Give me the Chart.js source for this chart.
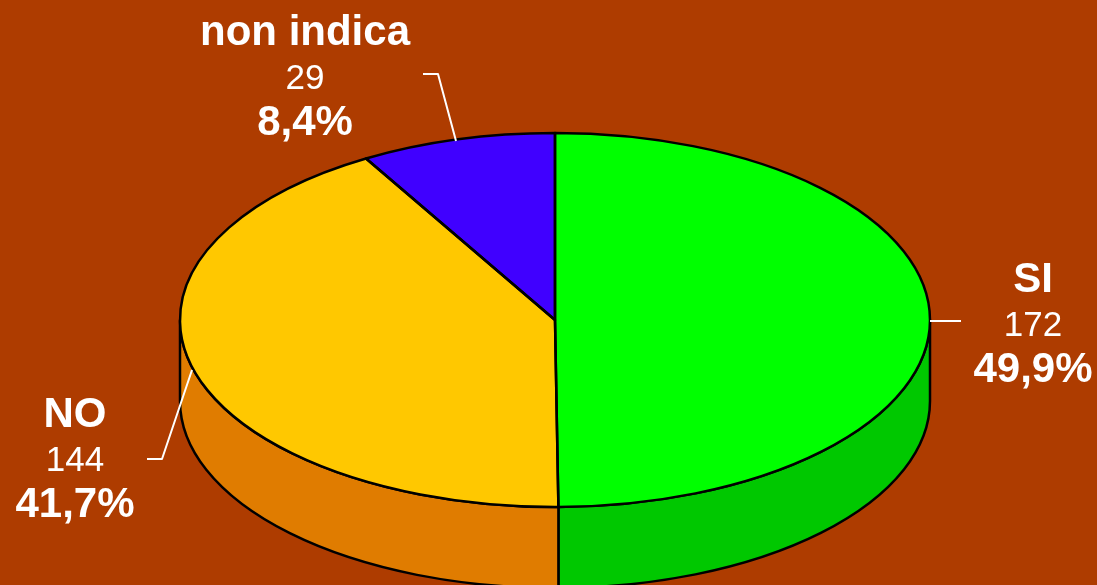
<!DOCTYPE html>
<html>
<head>
<meta charset="utf-8">
<title>Pie</title>
<script src="https://cdn.jsdelivr.net/npm/chart.js@4"></script>
<style>
  html, body { margin: 0; padding: 0; background: #ae3c00; overflow: hidden; }
  canvas { display: block; }
</style>
</head>
<body>
<canvas id="myChart" width="1097" height="585"></canvas>
<script>
const categories = ["SI", "NO", "non indica"];
const counts = [172, 144, 29];
const percents = ["49,9%", "41,7%", "8,4%"];

const topColors = ["#00ff00", "#ffc800", "#4000ff"];
const sideColors = ["#00c800", "#e07c00", "#3000c0"];

// pie ellipse on the page
const cx = 555, cy = 320, rx = 375, ry = 187, depth = 81;

// label block centre + first baseline, then the leader line, same order as categories
const labelSpots = [
  { x: 1033, y: 292, leader: [[930, 321], [961, 321]] },
  { x: 75, y: 427, leader: [[192, 370], [162, 459], [147, 459]] },
  { x: 305, y: 45, leader: [[456, 141], [438, 74], [423, 74]] }
];

const pie3d = {
  id: "pie3d",
  beforeDatasetsDraw(chart) {
    const ctx = chart.ctx;
    const arcs = chart.getDatasetMeta(0).data;

    ctx.save();
    ctx.lineWidth = 2.5;
    ctx.lineJoin = "round";
    ctx.strokeStyle = "#000";

    // side wall, only the part of each slice on the front half
    arcs.forEach((arc, i) => {
      const from = Math.max(arc.startAngle, 0);
      const to = Math.min(arc.endAngle, Math.PI);
      if (to <= from) return;
      ctx.beginPath();
      ctx.ellipse(cx, cy, rx, ry, 0, from, to);
      ctx.ellipse(cx, cy + depth, rx, ry, 0, to, from, true);
      ctx.closePath();
      ctx.fillStyle = sideColors[i];
      ctx.fill();
      ctx.stroke();
    });

    // top face, the library's own arcs squashed into the ellipse
    arcs.forEach(arc => {
      ctx.save();
      ctx.translate(cx, cy);
      ctx.scale(rx / arc.outerRadius, ry / arc.outerRadius);
      ctx.translate(-arc.x, -arc.y);
      arc.draw(ctx);
      ctx.restore();
    });

    // outlines done apart so the line width stays even
    arcs.forEach(arc => {
      ctx.beginPath();
      ctx.moveTo(cx, cy);
      ctx.ellipse(cx, cy, rx, ry, 0, arc.startAngle, arc.endAngle);
      ctx.closePath();
      ctx.stroke();
    });

    // leaders
    ctx.strokeStyle = "#fff";
    ctx.lineWidth = 2;
    labelSpots.forEach(spot => {
      ctx.beginPath();
      spot.leader.forEach((p, k) => k ? ctx.lineTo(p[0], p[1]) : ctx.moveTo(p[0], p[1]));
      ctx.stroke();
    });

    // labels
    ctx.fillStyle = "#fff";
    ctx.textAlign = "center";
    ctx.textBaseline = "alphabetic";
    categories.forEach((name, i) => {
      const spot = labelSpots[i];
      ctx.font = "bold 42px 'Liberation Sans'";
      ctx.fillText(name, spot.x, spot.y);
      ctx.font = "35px 'Liberation Sans'";
      ctx.fillText(String(counts[i]), spot.x, spot.y + 44);
      ctx.font = "bold 42px 'Liberation Sans'";
      ctx.fillText(percents[i], spot.x, spot.y + 90);
    });

    ctx.restore();
    return false;
  }
};

new Chart(document.getElementById("myChart").getContext("2d"), {
  type: "pie",
  data: {
    labels: categories,
    datasets: [{
      data: counts,
      backgroundColor: topColors,
      borderWidth: 0
    }]
  },
  options: {
    responsive: false,
    animation: false,
    events: [],
    plugins: {
      legend: { display: false },
      tooltip: { enabled: false }
    }
  },
  plugins: [pie3d]
});
</script>
</body>
</html>
